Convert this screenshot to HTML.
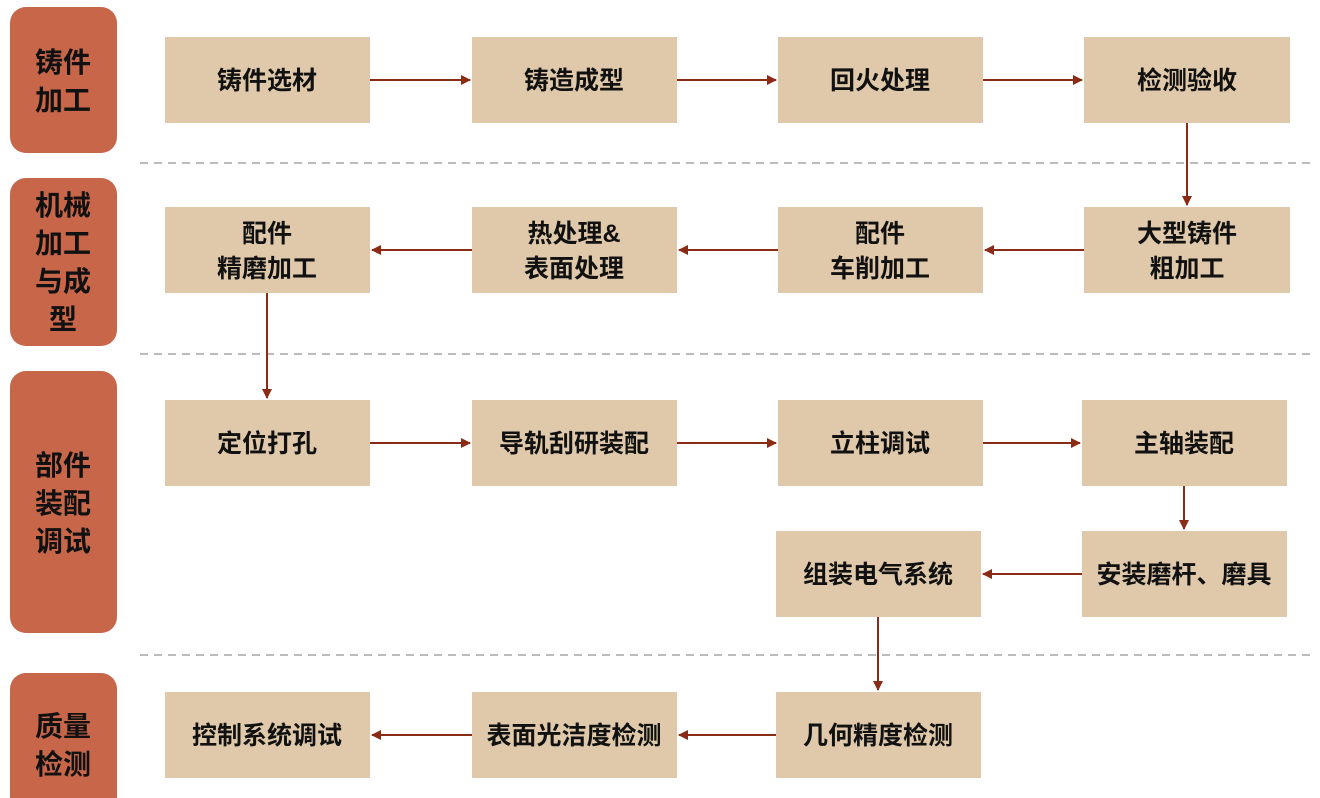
<!DOCTYPE html>
<html><head><meta charset="utf-8"><style>
html,body{margin:0;padding:0;background:#fff;}
svg{display:block;}
text{font-family:"Liberation Sans","Noto Sans CJK SC",sans-serif;font-weight:bold;fill:#111;}
</style></head><body>
<svg width="1320" height="798" viewBox="0 0 1320 798" xmlns="http://www.w3.org/2000/svg">
<defs><marker id="a" markerWidth="10" markerHeight="10" refX="9" refY="5" orient="auto" markerUnits="userSpaceOnUse"><path d="M0,0 L10,5 L0,10 z" fill="#8a2b16"/></marker></defs>
<g fill="#c8664a">
<rect x="10" y="7" width="107" height="146" rx="16"/>
<rect x="10" y="178" width="107" height="168" rx="16"/>
<rect x="10" y="371" width="107" height="262" rx="16"/>
<rect x="10" y="673" width="107" height="140" rx="16"/>
</g>
<g font-size="28" text-anchor="middle">
<text x="63" y="72">铸件</text><text x="63" y="110">加工</text>
<text x="63" y="215">机械</text><text x="63" y="253">加工</text><text x="63" y="291">与成</text><text x="63" y="329">型</text>
<text x="63" y="475">部件</text><text x="63" y="513">装配</text><text x="63" y="551">调试</text>
<text x="63" y="736">质量</text><text x="63" y="774">检测</text>
</g>
<g stroke="#bbb" stroke-width="2" stroke-dasharray="8,6">
<line x1="140" y1="163" x2="1315" y2="163"/>
<line x1="140" y1="354" x2="1315" y2="354"/>
<line x1="140" y1="655" x2="1315" y2="655"/>
</g>
<g fill="#dfc9aa">
<rect x="165" y="37" width="205" height="86"/><rect x="472" y="37" width="205" height="86"/><rect x="778" y="37" width="205" height="86"/><rect x="1084" y="37" width="206" height="86"/>
<rect x="165" y="207" width="205" height="86"/><rect x="472" y="207" width="205" height="86"/><rect x="778" y="207" width="205" height="86"/><rect x="1084" y="207" width="206" height="86"/>
<rect x="165" y="400" width="205" height="86"/><rect x="472" y="400" width="205" height="86"/><rect x="778" y="400" width="205" height="86"/><rect x="1082" y="400" width="205" height="86"/>
<rect x="776" y="531" width="205" height="86"/><rect x="1082" y="531" width="205" height="86"/>
<rect x="165" y="692" width="205" height="86"/><rect x="472" y="692" width="205" height="86"/><rect x="776" y="692" width="205" height="86"/>
</g>
<g font-size="25" text-anchor="middle">
<text x="267" y="89">铸件选材</text><text x="574" y="89">铸造成型</text><text x="880" y="89">回火处理</text><text x="1187" y="89">检测验收</text>
<text x="267" y="242">配件</text><text x="267" y="277">精磨加工</text>
<text x="574" y="242">热处理&amp;</text><text x="574" y="277">表面处理</text>
<text x="880" y="242">配件</text><text x="880" y="277">车削加工</text>
<text x="1187" y="242">大型铸件</text><text x="1187" y="277">粗加工</text>
<text x="267" y="452">定位打孔</text><text x="574" y="452">导轨刮研装配</text><text x="880" y="452">立柱调试</text><text x="1184" y="452">主轴装配</text>
<text x="878" y="583">组装电气系统</text><text x="1184" y="583">安装磨杆、磨具</text>
<text x="267" y="744">控制系统调试</text><text x="574" y="744">表面光洁度检测</text><text x="878" y="744">几何精度检测</text>
</g>
<g stroke="#8a2b16" stroke-width="2" marker-end="url(#a)">
<line x1="370" y1="80" x2="470" y2="80"/><line x1="677" y1="80" x2="776" y2="80"/><line x1="983" y1="80" x2="1082" y2="80"/>
<line x1="1187" y1="123" x2="1187" y2="205"/>
<line x1="1084" y1="250" x2="985" y2="250"/><line x1="778" y1="250" x2="679" y2="250"/><line x1="472" y1="250" x2="372" y2="250"/>
<line x1="267" y1="293" x2="267" y2="398"/>
<line x1="370" y1="443" x2="470" y2="443"/><line x1="677" y1="443" x2="776" y2="443"/><line x1="983" y1="443" x2="1080" y2="443"/>
<line x1="1184" y1="486" x2="1184" y2="529"/>
<line x1="1082" y1="574" x2="983" y2="574"/>
<line x1="878" y1="617" x2="878" y2="690"/>
<line x1="776" y1="735" x2="679" y2="735"/><line x1="472" y1="735" x2="372" y2="735"/>
</g>
</svg>
</body></html>
